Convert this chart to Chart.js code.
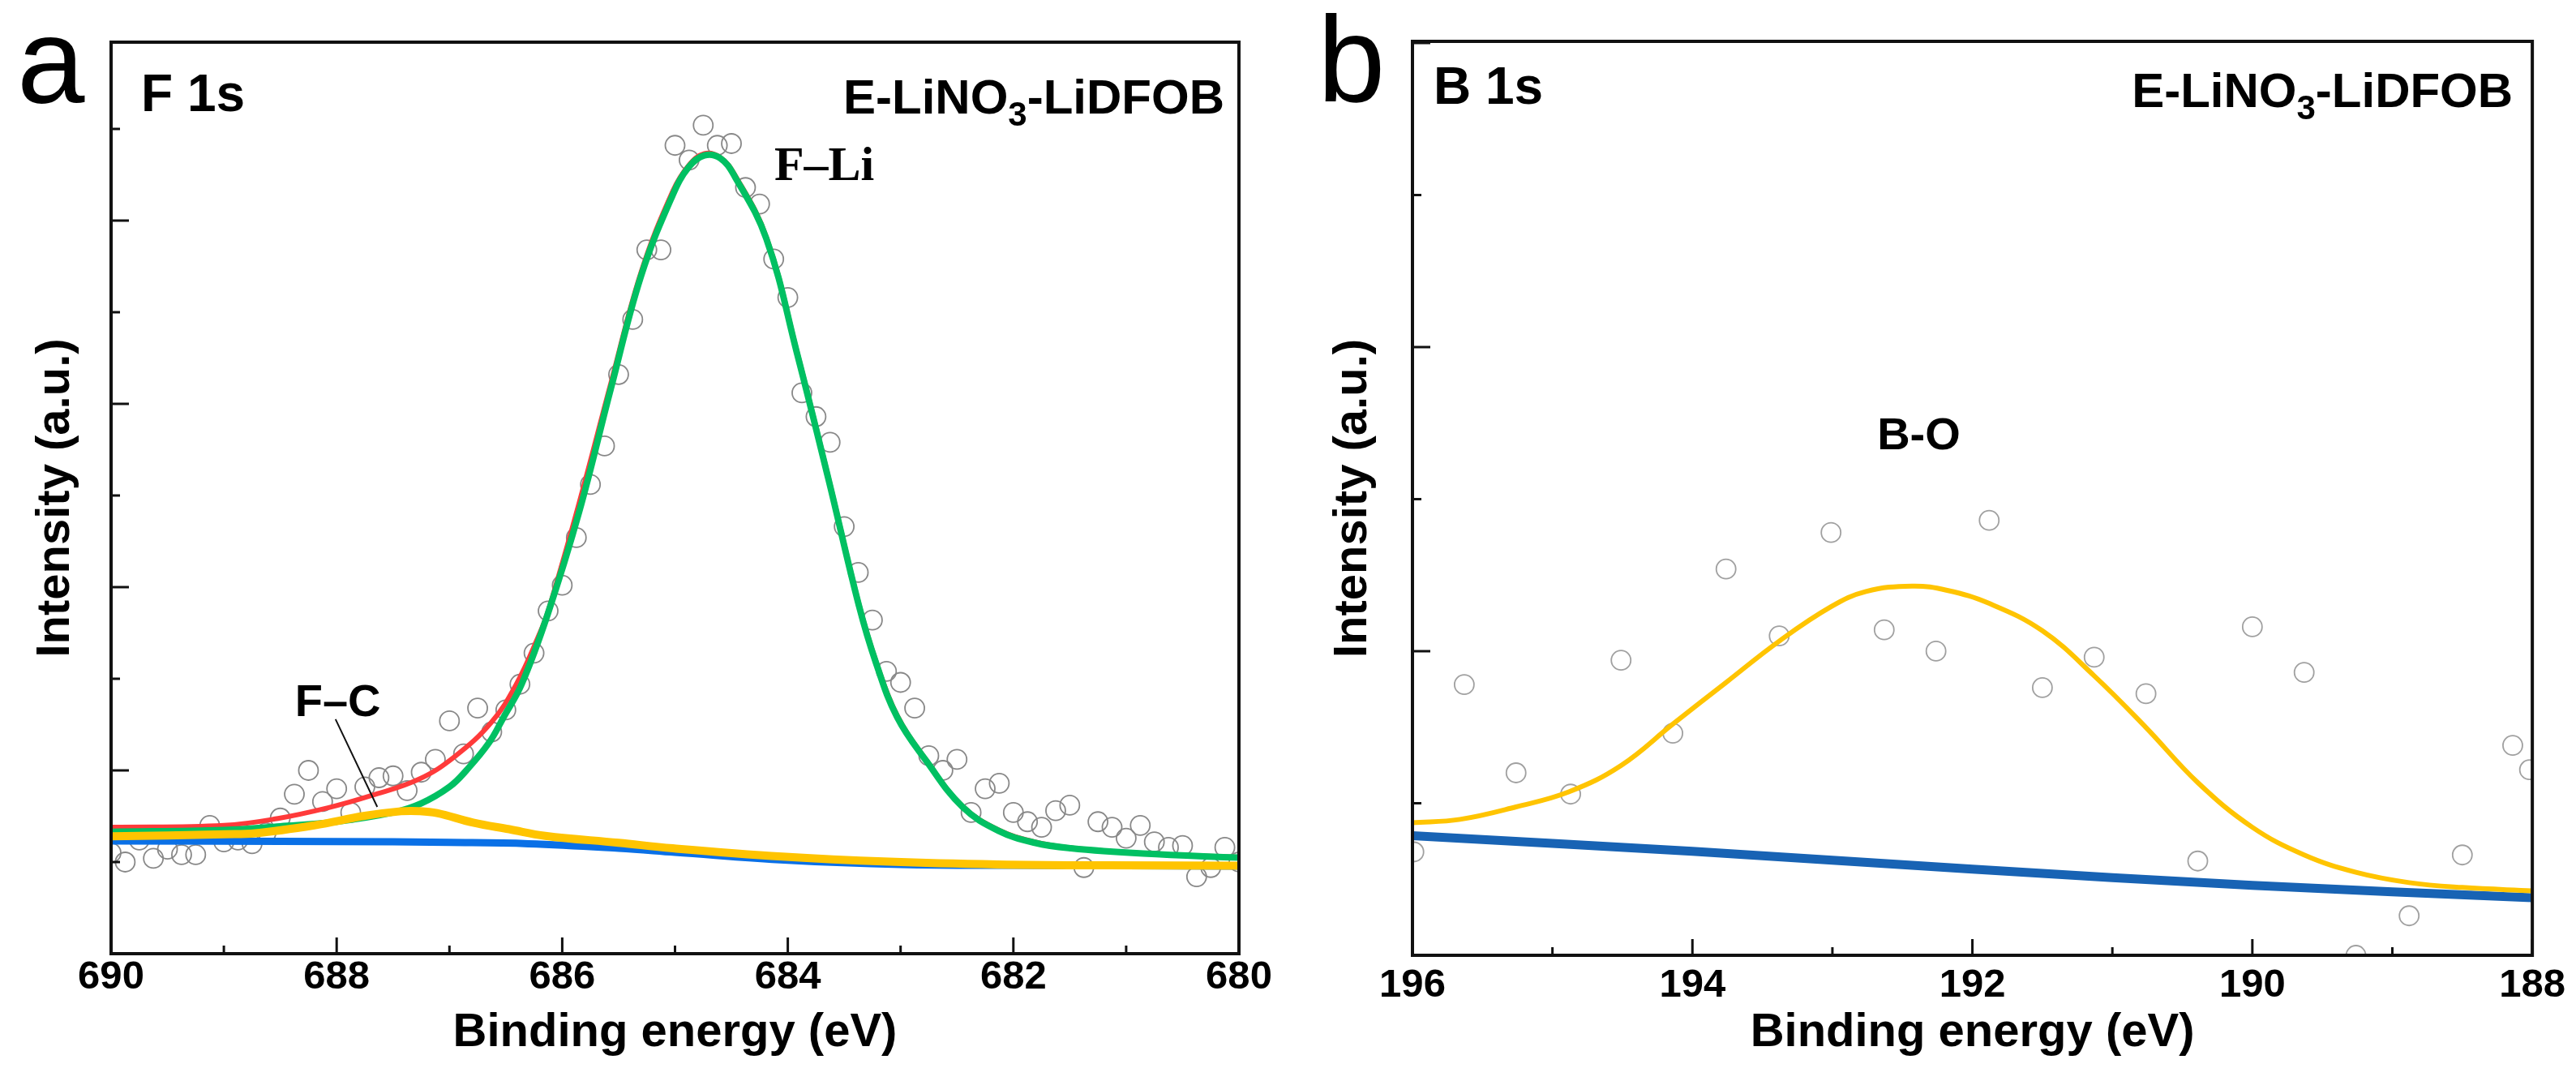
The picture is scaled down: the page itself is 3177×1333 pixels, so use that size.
<!DOCTYPE html>
<html>
<head>
<meta charset="utf-8">
<script src="https://cdn.jsdelivr.net/npm/chart.js@4.4.1/dist/chart.umd.min.js"></script>
<style>
  html, body { margin: 0; padding: 0; background: #fff; }
  body { width: 3177px; height: 1333px; position: relative; overflow: hidden; }
  canvas { position: absolute; top: 0; }
  #chartA { left: 0; }
  #chartB { left: 1590px; }
</style>
</head>
<body>
<canvas id="chartA" width="1590" height="1333"></canvas>
<canvas id="chartB" width="1587" height="1333"></canvas>
<script>
// ---- F 1s (panel a) ----
const fTicks = [690, 688, 686, 684, 682, 680];
const fRawE = [690, 689.875, 689.75, 689.625, 689.5, 689.375, 689.25, 689.125, 689, 688.875,
  688.75, 688.625, 688.5, 688.375, 688.25, 688.125, 688, 687.875, 687.75, 687.625,
  687.5, 687.375, 687.25, 687.125, 687, 686.875, 686.75, 686.625, 686.5, 686.375,
  686.25, 686.125, 686, 685.875, 685.75, 685.625, 685.5, 685.375, 685.25, 685.125,
  685, 684.875, 684.75, 684.625, 684.5, 684.375, 684.25, 684.125, 684, 683.875,
  683.75, 683.625, 683.5, 683.375, 683.25, 683.125, 683, 682.875, 682.75, 682.625,
  682.5, 682.375, 682.25, 682.125, 682, 681.875, 681.75, 681.625, 681.5, 681.375,
  681.25, 681.125, 681, 680.875, 680.75, 680.625, 680.5, 680.375, 680.25, 680.125, 680];
const fRawI = [0.55, 0.50, 0.62, 0.52, 0.57, 0.54, 0.54, 0.70, 0.61, 0.62,
  0.60, 0.66, 0.74, 0.87, 1.00, 0.83, 0.90, 0.77, 0.91, 0.96,
  0.97, 0.89, 0.99, 1.06, 1.27, 1.09, 1.34, 1.21, 1.33, 1.47,
  1.64, 1.87, 2.01, 2.27, 2.56, 2.77, 3.16, 3.46, 3.84, 3.84,
  4.41, 4.33, 4.52, 4.41, 4.42, 4.18, 4.09, 3.79, 3.58, 3.06,
  2.93, 2.79, 2.33, 2.08, 1.82, 1.54, 1.48, 1.34, 1.08, 1.00,
  1.06, 0.77, 0.90, 0.93, 0.77, 0.72, 0.69, 0.78, 0.81, 0.47,
  0.72, 0.69, 0.63, 0.70, 0.61, 0.58, 0.59, 0.42, 0.47, 0.58, 0.50];

// envelope (red)
const fSumE = [690, 689, 688.52, 688.07, 687.69, 687.27, 686.95, 686.63, 686.41, 686.21, 686.12,
  685.85, 685.57, 685.3, 685.02, 684.88, 684.74, 684.6, 684.47, 684.19, 683.92, 683.64,
  683.37, 683.22, 683.03, 682.77, 682.45, 682.13, 681.81, 681.49, 680.85, 680];
const fSumI = [0.69, 0.70, 0.738, 0.797, 0.863, 0.952, 1.077, 1.261, 1.467, 1.733, 1.88,
  2.46, 3.11, 3.72, 4.16, 4.30, 4.365, 4.345, 4.25, 3.91, 3.29, 2.60,
  1.91, 1.60, 1.30, 1.055, 0.805, 0.675, 0.61, 0.578, 0.548, 0.526];

// F-Li component (green)
const fLiE = [690, 689, 688.5, 688, 687.5, 687.25, 687, 686.85, 686.65, 686.52, 686.36, 686.13,
  685.85, 685.57, 685.3, 685.02, 684.88, 684.74, 684.6, 684.47, 684.19, 683.92, 683.64,
  683.37, 683.22, 683.03, 682.77, 682.45, 682.13, 681.81, 681.49, 680.85, 680];
const fLiI = [0.665, 0.675, 0.695, 0.72, 0.77, 0.82, 0.91, 1.00, 1.15, 1.29, 1.47, 1.85,
  2.41, 3.08, 3.70, 4.14, 4.29, 4.355, 4.34, 4.24, 3.90, 3.28, 2.59,
  1.90, 1.59, 1.29, 1.05, 0.80, 0.67, 0.605, 0.575, 0.546, 0.524];

// F-C component (yellow)
const fCE = [690, 689.5, 689, 688.72, 688.2, 687.75, 687.43, 687.27, 687.11, 686.79, 686.47,
  686.15, 685.5, 685.02, 684.05, 683.1, 682.14, 681.18, 680];
const fCI = [0.64, 0.645, 0.652, 0.657, 0.70, 0.752, 0.777, 0.778, 0.767, 0.715, 0.679,
  0.643, 0.605, 0.575, 0.53, 0.502, 0.487, 0.482, 0.48];

// background (blue)
const fBgE = [690, 688, 687, 686.3, 685.5, 685, 684, 683, 682, 680];
const fBgI = [0.615, 0.612, 0.607, 0.60, 0.575, 0.553, 0.51, 0.487, 0.482, 0.478];

// ---- B 1s (panel b) ----
const bTicks = [196, 194, 192, 190, 188];
const bRawE = [195.99, 195.63, 195.26, 194.87, 194.51, 194.14, 193.76, 193.38, 193.01, 192.63,
  192.26, 191.88, 191.5, 191.13, 190.76, 190.39, 190.0, 189.63, 189.26, 188.88, 188.5, 188.14, 188.02];
const bRawI = [0.34, 0.89, 0.60, 0.53, 0.97, 0.73, 1.27, 1.05, 1.39, 1.07,
  1.00, 1.43, 0.88, 0.98, 0.86, 0.31, 1.08, 0.93, 0.00, 0.13, 0.33, 0.69, 0.61];

// B-O component (yellow)
const bOE = [196, 195.66, 195.26, 194.88, 194.51, 194.14, 193.76, 193.38, 193.01, 192.76, 192.43,
  192.18, 191.88, 191.5, 191.13, 190.76, 190.39, 190.0, 189.63, 189.26, 188.88, 188.5, 188];
const bOI = [0.436, 0.447, 0.488, 0.538, 0.624, 0.76, 0.897, 1.033, 1.146, 1.196, 1.214,
  1.20, 1.157, 1.067, 0.919, 0.749, 0.568, 0.421, 0.33, 0.273, 0.239, 0.223, 0.212];

// background (blue)
const bBgE = [196, 194, 192, 190, 188];
const bBgI = [0.393, 0.342, 0.283, 0.230, 0.189];

Chart.defaults.font.family = '"Liberation Sans", Arial, sans-serif';
Chart.defaults.color = '#000';

function pts(xs, ys) {
  return xs.map((x, i) => ({ x: x, y: ys[i] }));
}

function curve(xs, ys, color, width, order) {
  return {
    data: pts(xs, ys),
    showLine: true,
    borderColor: color,
    borderWidth: width,
    pointRadius: 0,
    tension: 0.4,
    borderCapStyle: 'round',
    borderJoinStyle: 'round',
    clip: 0,
    order: order
  };
}

function dots(xs, ys, color, r) {
  return {
    data: pts(xs, ys),
    showLine: false,
    pointStyle: 'circle',
    pointRadius: r,
    pointBorderWidth: 1.8,
    pointBorderColor: color,
    pointBackgroundColor: 'rgba(0,0,0,0)',
    clip: 0,
    order: 9
  };
}

function drawSubLabel(ctx, right, base) {
  const big = 'bold 60px "Liberation Sans", Arial, sans-serif';
  const small = 'bold 42px "Liberation Sans", Arial, sans-serif';
  ctx.font = big;
  const w1 = ctx.measureText('E-LiNO').width;
  const w3 = ctx.measureText('-LiDFOB').width;
  ctx.font = small;
  const w2 = ctx.measureText('3').width;
  let x = right - (w1 + w2 + w3);
  ctx.textAlign = 'left';
  ctx.font = big;
  ctx.fillText('E-LiNO', x, base);
  x += w1;
  ctx.font = small;
  ctx.fillText('3', x, base + 15);
  x += w2;
  ctx.font = big;
  ctx.fillText('-LiDFOB', x, base);
}

// frame, inward ticks and annotations
const frame = {
  id: 'frame',
  afterDatasetsDraw(chart, args, o) {
    const { ctx, chartArea: a, scales: { x, y } } = chart;
    ctx.save();
    ctx.strokeStyle = '#111';
    ctx.fillStyle = '#000';
    ctx.lineWidth = 3;
    ctx.beginPath();
    for (let v = x.min; v <= x.max; v++) {
      const px = x.getPixelForValue(v);
      const len = (v % 2 === 0) ? 20 : 10;
      ctx.moveTo(px, a.bottom);
      ctx.lineTo(px, a.bottom - len);
    }
    for (let k = 1; k * 0.5 < y.max; k++) {
      const py = y.getPixelForValue(k * 0.5);
      const len = (k % 2 === 0) ? 22 : 11;
      ctx.moveTo(a.left, py);
      ctx.lineTo(a.left + len, py);
    }
    ctx.stroke();

    ctx.lineWidth = 4;
    ctx.strokeRect(a.left, a.top, a.right - a.left, a.bottom - a.top);

    ctx.textBaseline = 'alphabetic';
    ctx.textAlign = 'left';
    ctx.font = '150px "Liberation Sans", Arial, sans-serif';
    ctx.fillText(o.letter, o.letterX, o.letterY);
    ctx.font = 'bold 64px "Liberation Sans", Arial, sans-serif';
    ctx.fillText(o.core, o.coreX, o.coreY);
    drawSubLabel(ctx, a.right - o.sampleGap, o.sampleY);

    o.peaks.forEach(p => {
      ctx.font = p.font;
      ctx.fillText(p.text, x.getPixelForValue(p.e), y.getPixelForValue(p.i));
    });
    if (o.leader) {
      const l = o.leader;
      ctx.lineWidth = 2;
      ctx.beginPath();
      ctx.moveTo(x.getPixelForValue(l[0]), y.getPixelForValue(l[1]));
      ctx.lineTo(x.getPixelForValue(l[2]), y.getPixelForValue(l[3]));
      ctx.stroke();
    }
    ctx.restore();
  }
};

function makeChart(id, cfg) {
  return new Chart(document.getElementById(id), {
    type: 'scatter',
    data: { datasets: cfg.datasets },
    options: {
      responsive: false,
      animation: false,
      devicePixelRatio: 1,
      layout: { padding: { left: 0, top: cfg.top, right: cfg.right, bottom: 0 } },
      plugins: {
        legend: { display: false },
        tooltip: { enabled: false },
        frame: cfg.decor
      },
      scales: {
        x: {
          type: 'linear',
          reverse: true,
          min: cfg.xMin,
          max: cfg.xMax,
          afterBuildTicks: s => { s.ticks = cfg.ticks.map(v => ({ value: v })); },
          afterFit: s => { s.height = cfg.xHeight; },
          ticks: {
            font: { size: 49, weight: 'bold', lineHeight: 1 },
            padding: cfg.tickPad,
            maxRotation: 0,
            callback: v => String(v)
          },
          grid: { display: false, drawTicks: false },
          border: { display: false },
          title: {
            display: true,
            text: 'Binding energy (eV)',
            font: { size: 58, weight: 'bold', lineHeight: 1 },
            padding: { top: 0, bottom: 30 }
          }
        },
        y: {
          type: 'linear',
          min: 0,
          max: cfg.yMax,
          afterFit: s => { s.width = cfg.yWidth; },
          ticks: { display: false },
          grid: { display: false, drawTicks: false },
          border: { display: false },
          title: {
            display: true,
            text: 'Intensity (a.u.)',
            font: { size: 58, weight: 'bold', lineHeight: 1 },
            padding: { top: cfg.yTitlePad, bottom: 0 }
          }
        }
      }
    },
    plugins: [frame]
  });
}

makeChart('chartA', {
  top: 52, right: 62, xHeight: 157, yWidth: 137, tickPad: 5, yTitlePad: 40,
  xMin: 680, xMax: 690, yMax: 4.973, ticks: fTicks,
  datasets: [
    curve(fCE, fCI, '#ffc400', 10, 1),
    curve(fBgE, fBgI, '#0a70e6', 9, 2),
    curve(fLiE, fLiI, '#00c062', 8, 3),
    curve(fSumE, fSumI, '#ff3a3a', 6, 4),
    dots(fRawE, fRawI, '#888888', 12)
  ],
  decor: {
    letter: 'a', letterX: 21, letterY: 127, core: 'F 1s', coreX: 174, coreY: 137,
    sampleY: 140, sampleGap: 18,
    peaks: [
      { text: 'F\u2013Li', e: 684.12, i: 4.22, font: 'bold 60px "Liberation Serif", "Times New Roman", serif' },
      { text: 'F\u2013C', e: 688.37, i: 1.296, font: 'bold 56px "Liberation Sans", Arial, sans-serif' }
    ],
    leader: [688.01, 1.279, 687.64, 0.801]
  }
});

makeChart('chartB', {
  top: 51, right: 40, xHeight: 155, yWidth: 152, tickPad: 13, yTitlePad: 50,
  xMin: 188, xMax: 196, yMax: 3.005, ticks: bTicks,
  datasets: [
    curve(bOE, bOI, '#ffc400', 6, 1),
    curve(bBgE, bBgI, '#1863b4', 11, 2),
    dots(bRawE, bRawI, '#a0a0a0', 12)
  ],
  decor: {
    letter: 'b', letterX: 35, letterY: 125, core: 'B 1s', coreX: 178, coreY: 128,
    sampleY: 132, sampleGap: 24,
    peaks: [
      { text: 'B-O', e: 192.68, i: 1.664, font: 'bold 56px "Liberation Sans", Arial, sans-serif' }
    ],
    leader: null
  }
});
</script>
</body>
</html>
